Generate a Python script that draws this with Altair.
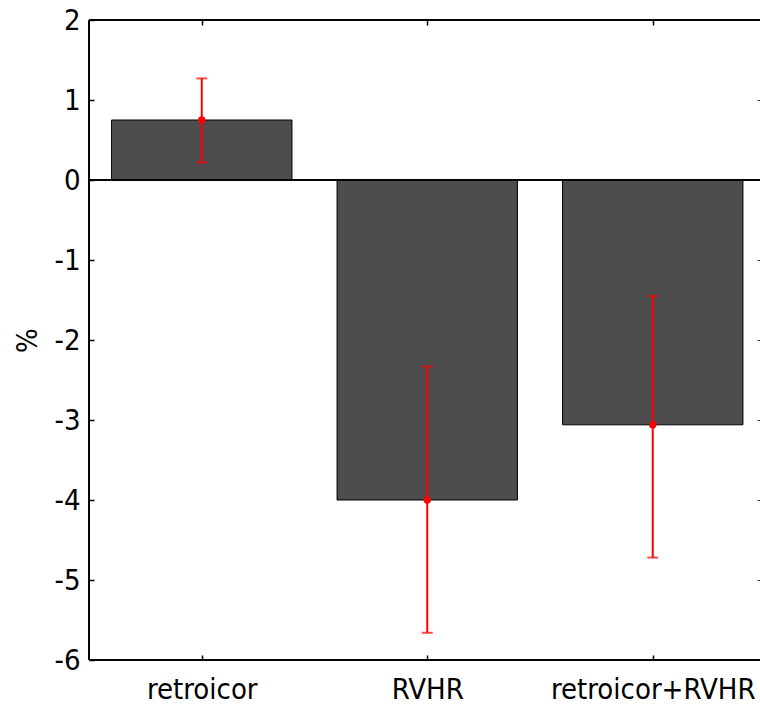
import altair as alt
import pandas as pd
import json

categories = ["retroicor", "RVHR", "retroicor+RVHR"]
positions = [1, 2, 3]
means = [0.75, -4.0, -3.06]
lower = [0.22, -5.66, -4.72]
upper = [1.27, -2.33, -1.45]
y_ticks = [2, 1, 0, -1, -2, -3, -4, -5, -6]

df = pd.DataFrame({"cat": categories, "pos": positions, "mean": means,
                   "lo": lower, "hi": upper})

FONT = "DejaVu Sans Condensed"
W, H = 671, 640
PX_PER_UNIT = 225.5

xs = alt.Scale(domain=[0.5, 0.5 + W / PX_PER_UNIT], nice=False, zero=False)
ys = alt.Scale(domain=[-6, 2], nice=False, zero=False)

cat_expr = json.dumps(categories) + "[datum.value - 1]"
num_expr = "datum.value < 0 ? '-' + abs(datum.value) : '' + datum.value"

x_bottom = alt.X("x0:Q", scale=xs, title=None,
                 axis=alt.Axis(orient="bottom", values=positions, labelExpr=cat_expr,
                               offset=-5, tickSize=5, domain=False,
                               labelAngle=0, labelPadding=15, labelFontSize=29,
                               labelLimit=500, labelFont=FONT, labelColor="black",
                               tickColor="black", tickWidth=1.5, grid=False))
y_left = alt.Y("mean:Q", scale=ys, title="%",
               axis=alt.Axis(orient="left", values=y_ticks, labelExpr=num_expr,
                             offset=-5, tickSize=5,
                             domain=False, labelPadding=9, labelFontSize=29,
                             labelFont=FONT, labelColor="black", tickColor="black",
                             tickWidth=1.5, grid=False, titleFont=FONT,
                             titleFontSize=29, titleFontWeight="normal",
                             titleColor="black", titlePadding=11))

bars = alt.Chart(df).transform_calculate(
    x0="datum.pos - 0.4", x1="datum.pos + 0.4"
).mark_bar(color="#4d4d4d", stroke="black", strokeWidth=1).encode(
    x=x_bottom, x2="x1:Q", y=y_left, y2=alt.datum(0))

x_top = alt.X("pos:Q", scale=xs, title=None,
              axis=alt.Axis(orient="top", values=positions, offset=-5, tickSize=5,
                            domain=False, labels=False, tickColor="black",
                            tickWidth=1.5, grid=False))
y_right = alt.Y("lo:Q", scale=ys, title=None,
                axis=alt.Axis(orient="right", values=y_ticks, offset=-3, tickSize=3,
                              domain=False, labels=False, tickColor="#333333",
                              tickWidth=1, grid=False))

err = alt.Chart(df).mark_rule(color="red", strokeWidth=2).encode(
    x=x_top, y=y_right, y2="hi:Q")

xn = alt.X("pos:Q", scale=xs, axis=None)
cap_lo = alt.Chart(df).mark_tick(color="red", thickness=2, size=11,
                                 orient="horizontal").encode(
    x=xn, y=alt.Y("lo:Q", scale=ys, axis=None))
cap_hi = alt.Chart(df).mark_tick(color="red", thickness=2, size=11,
                                 orient="horizontal").encode(
    x=xn, y=alt.Y("hi:Q", scale=ys, axis=None))
dots = alt.Chart(df).mark_circle(color="red", opacity=1, size=55).encode(
    x=xn, y=alt.Y("mean:Q", scale=ys, axis=None))

zero = alt.Chart(df).mark_rule(color="black", strokeWidth=1.5).encode(
    y=alt.datum(0, scale=ys))

frame_top = alt.Chart(df).mark_rule(color="black", strokeWidth=1.5).encode(
    x=alt.value(0), x2=alt.value(W), y=alt.value(0))
frame_left = alt.Chart(df).mark_rule(color="black", strokeWidth=1.5).encode(
    x=alt.value(0), y=alt.value(0), y2=alt.value(H))
frame_bottom = alt.Chart(df).mark_rule(color="black", strokeWidth=1.5).encode(
    x=alt.value(0), x2=alt.value(W), y=alt.value(H))

chart = alt.layer(bars, zero, err, cap_lo, cap_hi, dots,
                  frame_top, frame_left, frame_bottom).resolve_axis(
    x="independent", y="independent"
).properties(
    width=W, height=H,
    autosize=alt.AutoSizeParams(type="none"),
    padding={"left": 89, "top": 20, "right": 0, "bottom": 49},
    background="white",
).configure_view(stroke=None)

chart.save("out.html", embed_options={"renderer": "svg", "actions": False})
